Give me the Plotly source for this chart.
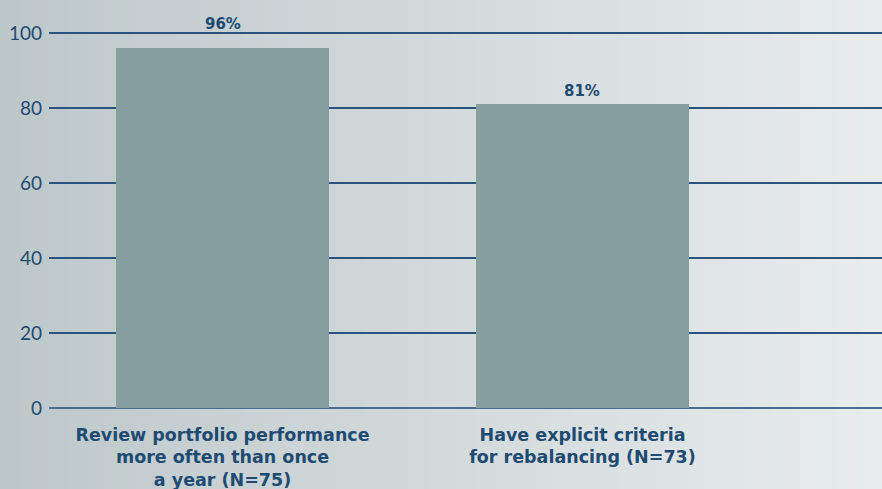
import plotly.graph_objects as go

categories = ["Review portfolio performance<br>more often than once<br>a year (N=75)",
              "Have explicit criteria<br>for rebalancing (N=73)"]
values = [96, 81]
value_labels = ["96%", "81%"]
y_ticks = [0, 20, 40, 60, 80, 100]

# label offsets above bar tops (px) - style only
label_shift = [24, 13]

W, H = 882, 489
L, R, T, B = 49, 0, 32, 81
pw, ph = W - L - R, H - T - B

text_color = "#1f4a72"
tick_family = "Lato, 'Open Sans', sans-serif"
label_family = "'DejaVu Sans', sans-serif"

fig = go.Figure()
fig.add_trace(go.Bar(
    x=[0, 1], y=values,
    marker=dict(color="#879f9f", line=dict(width=0)),
    width=0.592, cliponaxis=False, hoverinfo="skip",
))

annotations = []
for i, (v, lab) in enumerate(zip(values, value_labels)):
    annotations.append(dict(x=i, y=v, xref="x", yref="y", text=lab,
                            showarrow=False, yshift=label_shift[i],
                            font=dict(family=label_family, size=15,
                                      color=text_color, weight="bold")))

# gradient background
shapes = []
n = 80
c0 = (189, 200, 202)
c1 = (232, 236, 237)
x_start = -L / pw
x_end = 1 + R / pw
for i in range(n):
    t = i / (n - 1)
    col = tuple(round(c0[k] + (c1[k] - c0[k]) * t) for k in range(3))
    xa = x_start + (x_end - x_start) * i / n
    xb = x_start + (x_end - x_start) * (i + 1) / n + 0.002
    shapes.append(dict(type="rect", xref="paper", yref="paper",
                       x0=xa, x1=xb, y0=-B / ph - 0.01, y1=1 + T / ph + 0.01,
                       fillcolor="rgb(%d,%d,%d)" % col, line=dict(width=0),
                       layer="below"))

fig.update_layout(
    width=W, height=H,
    margin=dict(l=L, r=R, t=T, b=B, autoexpand=False),
    paper_bgcolor="#d5dcdd", plot_bgcolor="rgba(0,0,0,0)",
    shapes=shapes, annotations=annotations, showlegend=False,
    bargap=0,
    xaxis=dict(range=[-0.482, 1.832], tickvals=[0, 1], ticktext=categories,
               showgrid=False, zeroline=False, showline=False, ticks="",
               ticklabelstandoff=14,
               tickfont=dict(family=label_family, size=17.5, color=text_color, weight="bold"),
               automargin=False),
    yaxis=dict(range=[0, 100.3], tickvals=y_ticks, showgrid=True,
               gridcolor="#2c5380", gridwidth=1.5, zeroline=True,
               zerolinecolor="#4d6d8e", zerolinewidth=2,
               ticks="", ticklabelstandoff=6,
               tickfont=dict(family=tick_family, size=19, color=text_color),
               automargin=False),
)
fig.write_html("out.html", config={"displayModeBar": False},
               post_script="document.body.style.margin='0px';")
